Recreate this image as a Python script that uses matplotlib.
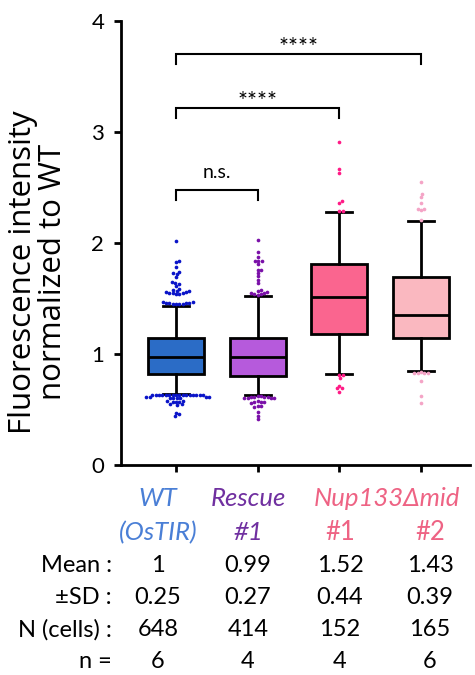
import numpy as np
import matplotlib
matplotlib.use("Agg")
import matplotlib.pyplot as plt

plt.rcParams['font.family'] = ['Lato', 'DejaVu Sans']

# box statistics
groups = ["WT (OsTIR)", "Rescue #1", "Nup133Δmid #1", "Nup133Δmid #2"]
q1 = [0.82, 0.80, 1.18, 1.145]
med = [0.975, 0.975, 1.51, 1.35]
q3 = [1.14, 1.145, 1.81, 1.69]
whislo = [0.64, 0.627, 0.82, 0.85]
whishi = [1.435, 1.52, 2.28, 2.195]

# outlier values (points beyond whiskers)
out_wt = [2.02, 1.84, 1.83, 1.78, 1.74, 1.73, 1.72, 1.69, 1.65, 1.64, 1.63, 1.61,
          1.59, 1.58, 1.57, 1.57, 1.56, 1.56, 1.55, 1.55, 1.55, 1.54, 1.54,
          1.47, 1.47, 1.46, 1.46, 1.46, 1.46, 1.45, 1.45, 1.45, 1.45,
          0.63, 0.63, 0.63, 0.63, 0.63, 0.63, 0.63, 0.63, 0.63, 0.63, 0.63, 0.63,
          0.63, 0.63, 0.63, 0.63, 0.61, 0.61, 0.61, 0.61, 0.60, 0.60, 0.60, 0.60,
          0.58, 0.58, 0.57, 0.57, 0.57, 0.55, 0.55, 0.54, 0.47, 0.46, 0.44]
out_rescue = [2.03, 1.92, 1.87, 1.84, 1.84, 1.84, 1.81, 1.76, 1.76, 1.73, 1.70,
              1.67, 1.64, 1.58, 1.57, 1.56, 1.55, 1.55, 1.54, 1.54, 1.53,
              0.62, 0.62, 0.61, 0.61, 0.61, 0.61, 0.60, 0.60, 0.60, 0.60,
              0.58, 0.57, 0.57, 0.57, 0.56, 0.53, 0.53, 0.52, 0.48, 0.44, 0.41]
out_nup1 = [2.91, 2.67, 2.63, 2.38, 2.36, 2.29, 2.29,
            0.81, 0.81, 0.78, 0.71, 0.69, 0.69, 0.66]
out_nup2 = [2.55, 2.44, 2.41, 2.36, 2.31, 2.30, 2.31, 2.21,
            0.84, 0.83, 0.83, 0.83, 0.83, 0.76, 0.62, 0.56]
outliers = [out_wt, out_rescue, out_nup1, out_nup2]

box_colors = ['#2b6cc6', '#b65adc', '#fa658f', '#fab8c0']
dot_colors = ['#0a14c8', '#7a10a8', '#ff1a86', '#f4a4c6']

# table under the chart
row_labels = ["Mean :", "±SD :", "N (cells) :", "n ="]
means = ["1", "0.99", "1.52", "1.43"]
sds = ["0.25", "0.27", "0.44", "0.39"]
ncells = ["648", "414", "152", "165"]
nrep = ["6", "4", "4", "6"]

# significance brackets: (from, to, height, label)
brackets = [(0, 1, 2.475, "n.s."), (0, 2, 3.215, "****"), (0, 3, 3.70, "****")]


def swarm(values, x_px, y_px, sep=3.4):
    """Simple beeswarm: offsets (data units) so dots do not overlap."""
    order = np.argsort(np.abs(np.asarray(values) - 1.0))
    placed = []
    offs = np.zeros(len(values))
    for i in order:
        y = values[i] * y_px
        cands = [0.0]
        for px, py in placed:
            dy = abs(py - y)
            if dy < sep:
                dx = np.sqrt(sep ** 2 - dy ** 2)
                cands += [px + dx, px - dx]
        cands.sort(key=abs)
        for c in cands:
            if all((c - px) ** 2 + (y - py) ** 2 >= sep ** 2 - 1e-6 for px, py in placed):
                placed.append((c, y))
                offs[i] = c / x_px
                break
    return offs


W, H = 475, 675
fig = plt.figure(figsize=(W / 100, H / 100), dpi=100)
ax = fig.add_axes([121 / W, 1 - 465 / H, 349 / W, 444 / H])

pos = np.arange(len(groups))
xlim = (-0.673, 3.6)
ax.set_xlim(*xlim)
ax.set_ylim(0, 4)

stats = [dict(med=med[i], q1=q1[i], q3=q3[i], whislo=whislo[i], whishi=whishi[i], fliers=[])
         for i in range(len(groups))]
bp = ax.bxp(stats, positions=pos, widths=0.685, capwidths=0.32, patch_artist=True,
            showfliers=False,
            boxprops=dict(linewidth=2.0, edgecolor='black'),
            whiskerprops=dict(linewidth=2.0, color='black'),
            capprops=dict(linewidth=2.0, color='black'),
            medianprops=dict(linewidth=2.0, color='black'))
for patch, c in zip(bp['boxes'], box_colors):
    patch.set_facecolor(c)

x_px = 349 / (xlim[1] - xlim[0])
y_px = 444 / 4
for i, vals in enumerate(outliers):
    offs = swarm(vals, x_px, y_px)
    ax.scatter(pos[i] + offs, vals, s=7, color=dot_colors[i], linewidths=0, zorder=5)

for a, b, h, lab in brackets:
    ax.plot([pos[a], pos[a], pos[b], pos[b]], [h - 0.09, h, h, h - 0.09],
             color='black', lw=1.5, solid_joinstyle='miter')
    if lab == "n.s.":
        ax.text((pos[a] + pos[b]) / 2, h + 0.11, lab, ha='center', va='baseline', fontsize=14)
    else:
        ax.text((pos[a] + pos[b]) / 2, h + 0.0, lab, ha='center', va='baseline', fontsize=17)

for s in ['top', 'right']:
    ax.spines[s].set_visible(False)
for s in ['left', 'bottom']:
    ax.spines[s].set_linewidth(2.0)
ax.set_yticks([0, 1, 2, 3, 4])
ax.set_xticks(pos)
ax.set_xticklabels([])
ax.tick_params(axis='y', length=5, width=2.0, pad=7, labelsize=16)
ax.tick_params(axis='x', length=5, width=2.0)

fig.text(38 / W, 1 - 272 / H, "Fluorescence intensity\nnormalized to WT",
         rotation=90, ha='center', va='center', multialignment='center',
         fontsize=22.5, family=['Open Sans', 'DejaVu Sans'], linespacing=1.0)

# category labels
cols = [158, 248, 340, 430]
lab_kw = dict(ha='center', va='center', fontsize=18.5)
fig.text(cols[0] / W, 1 - 498 / H, "WT", color='#4a7fd6', style='italic', **lab_kw)
fig.text(cols[0] / W, 1 - 533 / H, "(OsTIR)", color='#4a7fd6', style='italic', **lab_kw)
fig.text(cols[1] / W, 1 - 498 / H, "Rescue", color='#7030a0', style='italic', **lab_kw)
fig.text(cols[1] / W, 1 - 533 / H, "#1", color='#7030a0', style='italic', **lab_kw)
fig.text(387 / W, 1 - 498 / H, "Nup133Δmid", color='#ee6384', style='italic', **lab_kw)
fig.text(cols[2] / W, 1 - 533 / H, "#1", color='#ee6384', **lab_kw)
fig.text(cols[3] / W, 1 - 533 / H, "#2", color='#ee6384', **lab_kw)

rows_y = [566, 598, 630, 662]
for label, vals, y in zip(row_labels, [means, sds, ncells, nrep], rows_y):
    fig.text(112 / W, 1 - y / H, label, ha='right', va='center', fontsize=17)
    for c, v in zip(cols, vals):
        fig.text(c / W, 1 - y / H, v, ha='center', va='center', fontsize=17)

fig.savefig("out.png", dpi=100)
